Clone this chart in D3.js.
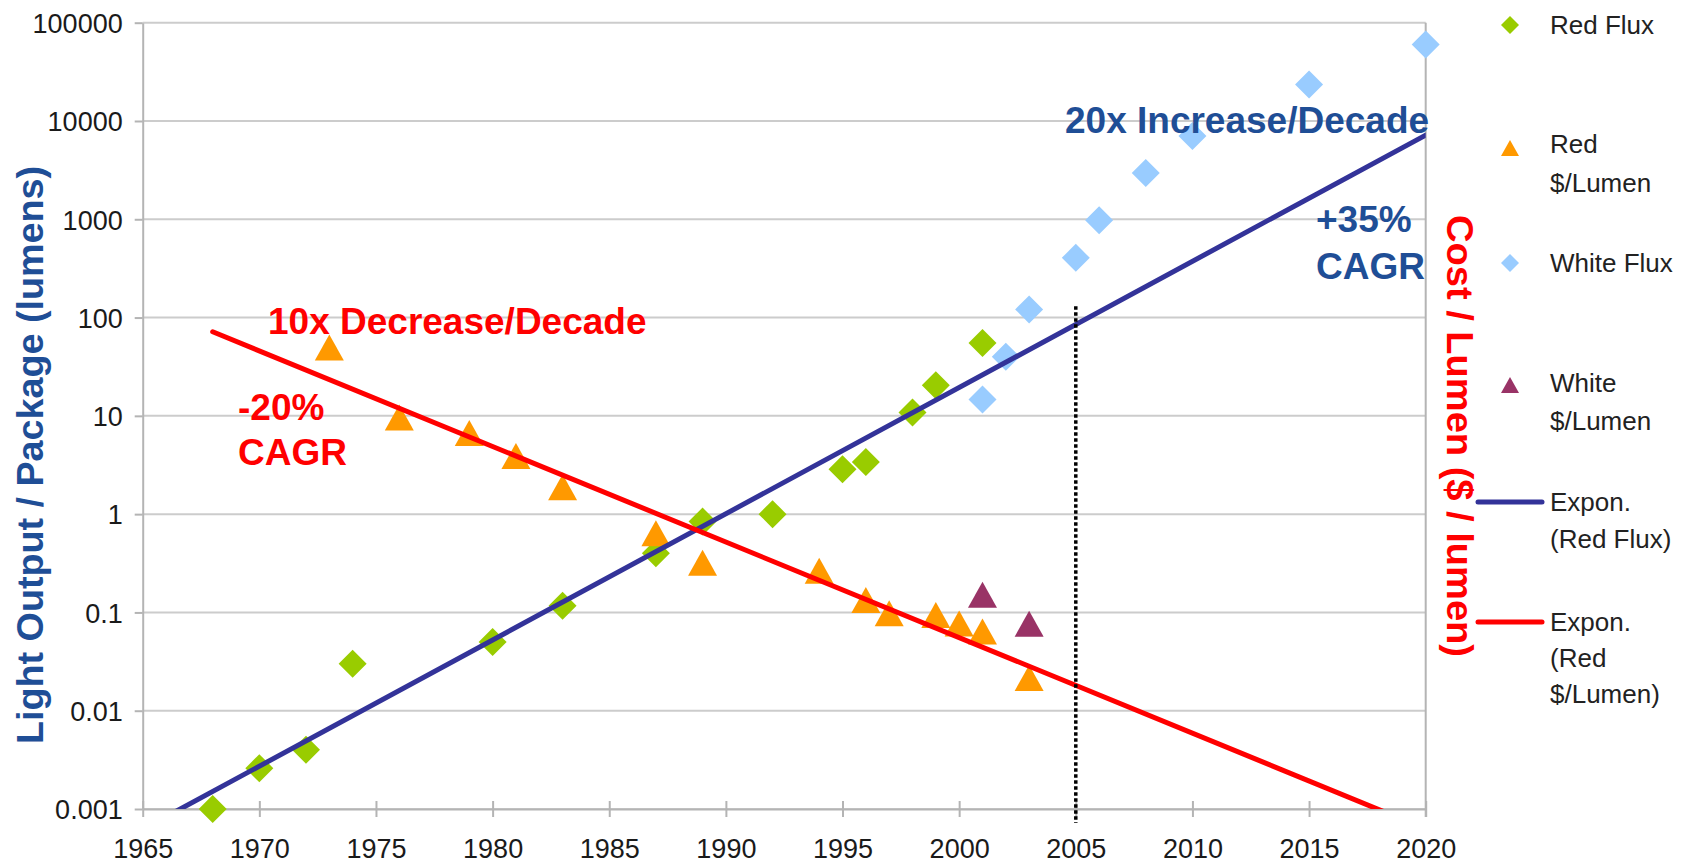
<!DOCTYPE html>
<html>
<head>
<meta charset="utf-8">
<script src="https://cdn.jsdelivr.net/npm/d3@7"></script>
<style>
  html, body { margin: 0; padding: 0; background: #ffffff; }
  svg { display: block; font-family: "Liberation Sans", Arial, sans-serif; }
</style>
</head>
<body>
<svg id="chart" width="1688" height="866"></svg>
<script>
// ---------------- DATA ----------------
const xTickValues = [1965, 1970, 1975, 1980, 1985, 1990, 1995, 2000, 2005, 2010, 2015, 2020];
const yTickValues = [0.001, 0.01, 0.1, 1, 10, 100, 1000, 10000, 100000];
const yTickLabels = ["0.001", "0.01", "0.1", "1", "10", "100", "1000", "10000", "100000"];

const redFluxYears  = [1968, 1970, 1972, 1974, 1980, 1983, 1987, 1989, 1992, 1995, 1996, 1998, 1999, 2001];
const redFluxValues = [0.001, 0.0026, 0.004, 0.03, 0.05, 0.117, 0.40, 0.84, 1.0, 2.86, 3.4, 10.8, 20.5, 55];

const redCostYears  = [1973, 1976, 1979, 1981, 1983, 1987, 1989, 1994, 1996, 1997, 1999, 2000, 2001, 2003];
const redCostValues = [49.5, 9.6, 6.7, 3.9, 1.88, 0.64, 0.32, 0.265, 0.134, 0.098, 0.094, 0.077, 0.064, 0.0215];

const whiteFluxYears  = [2001, 2002, 2003, 2005, 2006, 2008, 2010, 2015, 2020];
const whiteFluxValues = [14.7, 40, 121, 405, 980, 2950, 7050, 23500, 60000];

const whiteCostYears  = [2001, 2003];
const whiteCostValues = [0.151, 0.0767];

// exponential trendline spans (years) - backward forecast 5 periods, forward to 2020
const trendRedFluxSpan = [1963, 2020];
const trendRedCostSpan = [1968, 2020];

// vertical reference line
const refLineYear = 2005;
const refLineTopValue = 130;

const annotations = [
  { text: "20x Increase/Decade", color: "#1f4e96", x: 1065, y: 133 },
  { text: "+35%", color: "#1f4e96", x: 1316, y: 232 },
  { text: "CAGR", color: "#1f4e96", x: 1316, y: 279 },
  { text: "10x Decrease/Decade", color: "#ff0000", x: 268, y: 334 },
  { text: "-20%", color: "#ff0000", x: 238, y: 420 },
  { text: "CAGR", color: "#ff0000", x: 238, y: 465 }
];

const legendItems = [
  { kind: "diamond",  color: "#99cc00", markY: 25,  lines: ["Red Flux"], baselines: [33.5] },
  { kind: "triangle", color: "#ff9900", markY: 148, lines: ["Red", "$/Lumen"], baselines: [153, 192] },
  { kind: "diamond",  color: "#99ccff", markY: 263, lines: ["White Flux"], baselines: [272] },
  { kind: "triangle", color: "#993366", markY: 385, lines: ["White", "$/Lumen"], baselines: [392, 430] },
  { kind: "line",     color: "#333399", markY: 502, lines: ["Expon.", "(Red Flux)"], baselines: [511, 548] },
  { kind: "line",     color: "#ff0000", markY: 622, lines: ["Expon.", "(Red", "$/Lumen)"], baselines: [631, 667, 703] }
];

// ---------------- LAYOUT ----------------
const plot = { left: 142.7, right: 1425.7, top: 22.7, bottom: 809 };
const svg = d3.select("#chart");

const x = d3.scaleLinear().domain([1965, 2020]).range([plot.left, plot.right]);
const y = d3.scaleLog().domain([0.001, 100000]).range([plot.bottom, plot.top]);

const gridColor = "#cccccc";
const axisColor = "#b4b4b4";

// gridlines
svg.append("g").selectAll("line").data(yTickValues).join("line")
  .attr("x1", plot.left).attr("x2", plot.right)
  .attr("y1", d => y(d)).attr("y2", d => y(d))
  .attr("stroke", gridColor).attr("stroke-width", 2);

// left axis
const yAxis = svg.append("g").attr("transform", `translate(${plot.left},0)`)
  .call(d3.axisLeft(y).tickValues(yTickValues).tickFormat((d, i) => yTickLabels[i]).tickSizeInner(8).tickSizeOuter(0).tickPadding(12));
yAxis.select(".domain").attr("stroke", axisColor).attr("stroke-width", 2);
yAxis.selectAll(".tick line").attr("stroke", axisColor).attr("stroke-width", 2);
yAxis.selectAll(".tick text").attr("fill", "#1a1a1a").attr("font-size", 27).attr("dy", "0.36em")
  .attr("font-family", "'Liberation Sans', Arial, sans-serif");

// right axis line
svg.append("line").attr("x1", plot.right).attr("x2", plot.right).attr("y1", plot.top).attr("y2", plot.bottom + 8)
  .attr("stroke", axisColor).attr("stroke-width", 2);

// bottom axis
const xAxis = svg.append("g").attr("transform", `translate(0,${plot.bottom})`)
  .call(d3.axisBottom(x).tickValues(xTickValues).tickFormat(d3.format("d")).tickSizeOuter(0));
xAxis.select(".domain").attr("stroke", axisColor).attr("stroke-width", 2);
xAxis.selectAll(".tick line").attr("y1", -8).attr("y2", 8).attr("stroke", axisColor).attr("stroke-width", 2);
xAxis.selectAll(".tick text").attr("fill", "#1a1a1a").attr("font-size", 27).attr("y", 49).attr("dy", 0)
  .attr("font-family", "'Liberation Sans', Arial, sans-serif");

// clip
svg.append("clipPath").attr("id", "plotClip").append("rect")
  .attr("x", plot.left).attr("y", plot.top).attr("width", plot.right - plot.left).attr("height", plot.bottom - plot.top);

// marker paths
function diamondPath(r) { return `M0,${-r}L${r},0L0,${r}L${-r},0Z`; }
function trianglePath(w, h) { return `M0,${-h / 2}L${w / 2},${h / 2}L${-w / 2},${h / 2}Z`; }

function drawSeries(years, values, kind, color) {
  const data = years.map((yr, i) => ({ yr, v: values[i] }));
  svg.append("g").selectAll("path").data(data).join("path")
    .attr("transform", d => `translate(${x(d.yr)},${y(d.v)})`)
    .attr("d", kind === "diamond" ? diamondPath(14) : trianglePath(29, 26))
    .attr("fill", color);
}
drawSeries(redFluxYears, redFluxValues, "diamond", "#99cc00");
drawSeries(redCostYears, redCostValues, "triangle", "#ff9900");
drawSeries(whiteFluxYears, whiteFluxValues, "diamond", "#99ccff");
drawSeries(whiteCostYears, whiteCostValues, "triangle", "#993366");

// exponential fits (least squares on log10)
function expFit(years, values) {
  const lx = years, ly = values.map(v => Math.log10(v));
  const mx = d3.mean(lx), my = d3.mean(ly);
  const sxy = d3.sum(lx, (d, i) => (d - mx) * (ly[i] - my));
  const sxx = d3.sum(lx, d => (d - mx) * (d - mx));
  const b = sxy / sxx, a = my - b * mx;
  return yr => Math.pow(10, a + b * yr);
}
const fitRedFlux = expFit(redFluxYears, redFluxValues);
const fitRedCost = expFit(redCostYears, redCostValues);

function drawTrend(fit, span, color) {
  const pts = span.map(yr => [x(yr), y(fit(yr))]);
  svg.append("path").attr("clip-path", "url(#plotClip)")
    .attr("d", d3.line()(pts))
    .attr("fill", "none").attr("stroke", color).attr("stroke-width", 5).attr("stroke-linecap", "round");
}
drawTrend(fitRedFlux, trendRedFluxSpan, "#333399");
drawTrend(fitRedCost, trendRedCostSpan, "#ff0000");

// vertical dotted reference line
svg.append("line")
  .attr("x1", x(refLineYear)).attr("x2", x(refLineYear))
  .attr("y1", y(refLineTopValue)).attr("y2", plot.bottom + 14)
  .attr("stroke", "#000").attr("stroke-width", 3.5).attr("stroke-dasharray", "3.5,2.5");

// annotations
svg.append("g").selectAll("text").data(annotations).join("text")
  .attr("x", d => d.x).attr("y", d => d.y)
  .attr("fill", d => d.color).attr("font-size", 37).attr("font-weight", "bold")
  .text(d => d.text);

// axis titles
svg.append("text")
  .attr("transform", "translate(43,455) rotate(-90)")
  .attr("text-anchor", "middle").attr("fill", "#1f4e96")
  .attr("font-size", 36).attr("font-weight", "bold")
  .attr("textLength", 578).attr("lengthAdjust", "spacingAndGlyphs")
  .text("Light Output / Package (lumens)");

svg.append("text")
  .attr("transform", "translate(1447,436) rotate(90)")
  .attr("text-anchor", "middle").attr("fill", "#ff0000")
  .attr("font-size", 36).attr("font-weight", "bold")
  .attr("textLength", 442).attr("lengthAdjust", "spacingAndGlyphs")
  .text("Cost / Lumen ($ / lumen)");

// legend
const lg = svg.append("g");
legendItems.forEach(item => {
  if (item.kind === "diamond") {
    lg.append("path").attr("transform", `translate(1510,${item.markY})`).attr("d", diamondPath(9)).attr("fill", item.color);
  } else if (item.kind === "triangle") {
    lg.append("path").attr("transform", `translate(1510,${item.markY})`).attr("d", trianglePath(18, 16)).attr("fill", item.color);
  } else {
    lg.append("line").attr("x1", 1478).attr("x2", 1542).attr("y1", item.markY).attr("y2", item.markY)
      .attr("stroke", item.color).attr("stroke-width", 5).attr("stroke-linecap", "round");
  }
  item.lines.forEach((t, i) => {
    lg.append("text").attr("x", 1550).attr("y", item.baselines[i])
      .attr("fill", "#222").attr("font-size", 26).text(t);
  });
});
</script>
</body>
</html>
